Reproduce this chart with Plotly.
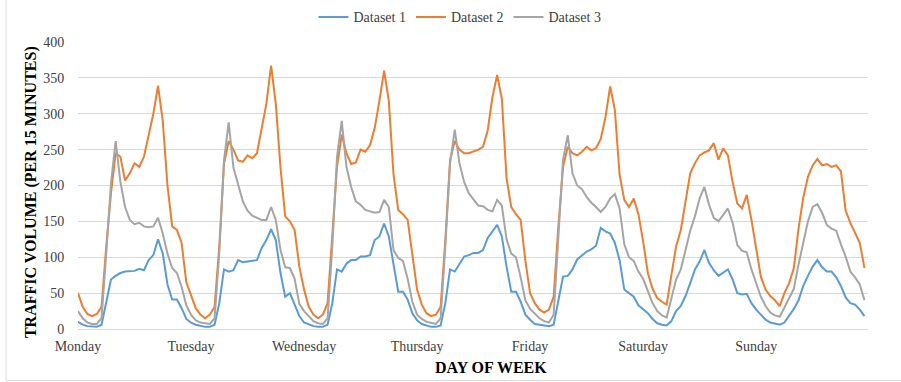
import plotly.graph_objects as go

days = ["Monday", "Tuesday", "Wednesday", "Thursday", "Friday", "Saturday", "Sunday"]

# hourly traffic volume (per 15 minutes), Monday 00:00 -> Sunday 23:00
dataset_1 = [
    10, 6, 4, 3, 3, 6, 36, 69, 74, 78, 80, 80, 81, 84, 82, 96, 103, 125, 105, 62, 41, 41, 29, 14,      # Mon
    9, 6, 4, 3, 3, 6, 36, 83, 80, 82, 96, 93, 94, 95, 96, 113, 124, 139, 124, 78, 45, 50, 34, 18,      # Tue
    9, 6, 4, 3, 3, 6, 36, 83, 80, 91, 96, 96, 101, 101, 103, 124, 129, 147, 129, 90, 52, 52, 41, 22,   # Wed
    12, 7, 5, 3, 3, 5, 36, 83, 80, 91, 101, 103, 106, 106, 110, 127, 136, 145, 129, 87, 52, 52, 38, 20,  # Thu
    13, 7, 6, 5, 4, 6, 38, 73, 74, 83, 97, 103, 108, 111, 116, 141, 136, 133, 120, 96, 55, 50, 45, 33,  # Fri
    28, 22, 14, 8, 6, 5, 11, 25, 32, 46, 64, 83, 94, 110, 92, 82, 74, 78, 83, 69, 50, 48, 49, 36,      # Sat
    27, 20, 13, 9, 7, 6, 9, 18, 28, 40, 60, 74, 87, 96, 86, 80, 80, 72, 60, 44, 36, 34, 27, 18,        # Sun
]

dataset_2 = [
    50, 31, 21, 18, 21, 31, 115, 189, 245, 240, 207, 217, 231, 226, 240, 268, 300, 339, 290, 200, 143, 138, 120, 65,   # Mon
    48, 29, 20, 15, 20, 31, 115, 230, 262, 250, 235, 233, 242, 238, 245, 277, 314, 367, 314, 225, 157, 150, 138, 87,   # Tue
    55, 31, 20, 15, 20, 36, 124, 226, 271, 245, 230, 232, 250, 247, 256, 280, 318, 360, 318, 215, 166, 160, 152, 100,  # Wed
    55, 34, 22, 18, 20, 31, 124, 235, 262, 250, 245, 245, 247, 250, 254, 277, 323, 354, 321, 210, 170, 160, 152, 95,   # Thu
    50, 36, 27, 23, 27, 45, 143, 226, 254, 245, 242, 247, 254, 249, 252, 265, 295, 338, 305, 215, 180, 170, 182, 160,  # Fri
    122, 78, 56, 43, 38, 34, 75, 115, 138, 175, 217, 231, 242, 246, 249, 259, 236, 252, 242, 205, 175, 168, 187, 152,  # Sat
    110, 73, 55, 46, 40, 32, 50, 64, 85, 140, 183, 212, 228, 237, 228, 230, 226, 228, 220, 165, 148, 135, 120, 85,     # Sun
]

dataset_3 = [
    25, 15, 9, 7, 7, 15, 106, 203, 262, 205, 170, 152, 146, 148, 143, 142, 143, 155, 133, 105, 85, 78, 59, 33,    # Mon
    20, 12, 9, 8, 7, 15, 106, 235, 288, 225, 200, 178, 165, 158, 155, 152, 152, 170, 152, 110, 86, 85, 70, 35,    # Tue
    25, 18, 11, 8, 7, 15, 115, 240, 290, 226, 198, 178, 173, 166, 164, 162, 163, 180, 170, 110, 99, 95, 70, 38,   # Wed
    20, 14, 10, 8, 7, 15, 115, 231, 278, 231, 205, 189, 180, 172, 171, 166, 164, 180, 172, 125, 105, 100, 72, 40,  # Thu
    28, 22, 15, 11, 9, 20, 124, 236, 270, 217, 200, 195, 184, 176, 170, 163, 170, 182, 188, 168, 118, 100, 95, 80,  # Fri
    70, 52, 36, 25, 19, 16, 43, 69, 83, 112, 137, 157, 182, 198, 173, 155, 150, 159, 168, 148, 117, 109, 107, 83,  # Sat
    65, 45, 32, 23, 19, 17, 30, 43, 56, 90, 122, 150, 170, 174, 162, 145, 140, 137, 118, 101, 80, 72, 62, 40,      # Sun
]

series_names = ["Dataset 1", "Dataset 2", "Dataset 3"]
series_colors = ["#5B9BD5", "#ED7D31", "#A5A5A5"]

hours = list(range(len(dataset_1)))
day_ticks = [24 * i for i in range(len(days))]

FONT = "Liberation Serif, Times New Roman, serif"

fig = go.Figure()
for name, values, color in zip(series_names, [dataset_1, dataset_2, dataset_3], series_colors):
    fig.add_trace(go.Scatter(
        x=hours, y=values, mode="lines", name=name,
        line=dict(color=color, width=2),
    ))

fig.update_layout(
    width=901, height=382,
    margin=dict(l=78, r=33, t=42, b=53, autoexpand=False),
    paper_bgcolor="white", plot_bgcolor="white",
    font=dict(family=FONT, size=14, color="#404040"),
    showlegend=True,
    legend=dict(
        orientation="h", x=0.4835, xanchor="center", y=1.086, yanchor="middle",
        font=dict(family=FONT, size=14, color="#404040"),
        bgcolor="rgba(0,0,0,0)",
    ),
    xaxis=dict(
        range=[0, len(hours) - 0.25],
        tickmode="array", tickvals=day_ticks, ticktext=days,
        showgrid=False, zeroline=False,
        showline=True, linecolor="#D9D9D9", linewidth=1,
        ticks="outside", ticklen=4, tickcolor="rgba(0,0,0,0)",
        tickfont=dict(family=FONT, size=14, color="#404040"),
    ),
    yaxis=dict(
        range=[0, 400], dtick=50,
        showgrid=True, gridcolor="#D9D9D9", gridwidth=1,
        zeroline=False, showline=False,
        ticks="outside", ticklen=10, tickcolor="rgba(0,0,0,0)",
        tickfont=dict(family=FONT, size=14, color="#404040"),
    ),
    annotations=[
        dict(text="<b>TRAFFIC VOLUME (PER 15 MINUTES)</b>", textangle=-90,
             xref="paper", yref="paper", x=-0.0595, y=0.477,
             xanchor="center", yanchor="middle", showarrow=False,
             font=dict(family=FONT, size=16, color="#000000")),
        dict(text="<b>DAY OF WEEK</b>",
             xref="paper", yref="paper", x=0.523, y=-0.1346,
             xanchor="center", yanchor="middle", showarrow=False,
             font=dict(family=FONT, size=16, color="#000000")),
    ],
    shapes=[
        dict(type="line", xref="paper", yref="paper",
             x0=(6 - 78) / 790, x1=(6 - 78) / 790, y0=(329.3 - 0) / 287.3, y1=(329.3 - 381) / 287.3,
             line=dict(color="#D9D9D9", width=1)),
        dict(type="line", xref="paper", yref="paper",
             x0=(6 - 78) / 790, x1=(901 - 78) / 790, y0=(329.3 - 381) / 287.3, y1=(329.3 - 381) / 287.3,
             line=dict(color="#D9D9D9", width=1)),
    ],
)

fig.write_html("out.html", config={"displayModeBar": False},
               post_script="document.body.style.margin='0';")
